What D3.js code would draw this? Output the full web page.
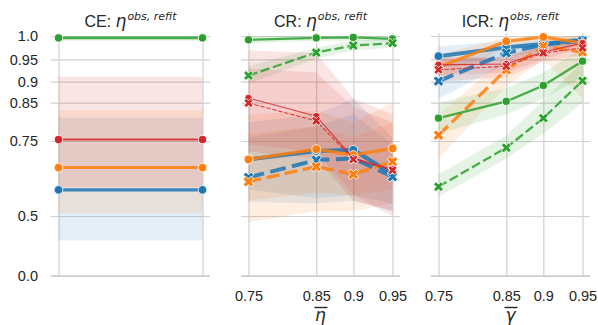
<!DOCTYPE html>
<html><head><meta charset="utf-8">
<script src="https://cdn.jsdelivr.net/npm/d3@7"></script>
<style>body{margin:0;background:#fff}svg{display:block}</style>
</head><body><svg id="c" width="598" height="325"></svg>
<script>
// ---------- data ----------
const ceX = [0, 1];
const xTicks = [0.75, 0.85, 0.9, 0.95];
const xTickLabels = ['0.75', '0.85', '0.9', '0.95'];
const yTicks = [0.0, 0.5, 0.75, 0.85, 0.9, 0.95, 1.0];
const yTickLabels = ['0.0', '0.5', '0.75', '0.85', '0.9', '0.95', '1.0'];
const hueColors = ['#1f77b4', '#ff7f0e', '#2ca02c', '#d62728']; // blue, orange, green, red

// CE panel (solid only)
const ceBlue = [0.599, 0.599], ceBlueLo = [0.384, 0.384], ceBlueHi = [0.812, 0.812];
const ceOrange = [0.672, 0.672], ceOrangeLo = [0.511, 0.511], ceOrangeHi = [0.830, 0.830];
const ceGreen = [0.996, 0.996], ceGreenLo = [0.990, 0.990], ceGreenHi = [1.0, 1.0];
const ceRed = [0.754, 0.754], ceRedLo = [0.608, 0.608], ceRedHi = [0.911, 0.911];

// CR panel
const crBlueSolid = [0.697, 0.722, 0.725, 0.651], crBlueSolidLo = [0.60, 0.57, 0.58, 0.55], crBlueSolidHi = [0.80, 0.82, 0.86, 0.76];
const crBlueDashed = [0.641, 0.695, 0.700, 0.643], crBlueDashedLo = [0.556, 0.55, 0.56, 0.52], crBlueDashedHi = [0.76, 0.79, 0.82, 0.74];
const crOrangeSolid = [0.697, 0.727, 0.710, 0.729], crOrangeSolidLo = [0.56, 0.59, 0.58, 0.60], crOrangeSolidHi = [0.82, 0.83, 0.80, 0.85];
const crOrangeDashed = [0.627, 0.675, 0.651, 0.690], crOrangeDashedLo = [0.473, 0.52, 0.52, 0.55], crOrangeDashedHi = [0.77, 0.79, 0.76, 0.80];
const crGreenSolid = [0.992, 0.996, 0.997, 0.994], crGreenSolidLo = [0.985, 0.99, 0.99, 0.988], crGreenSolidHi = [1.0, 1.0, 1.0, 1.0];
const crGreenDashed = [0.914, 0.965, 0.980, 0.985], crGreenDashedLo = [0.895, 0.952, 0.97, 0.975], crGreenDashedHi = [0.935, 0.975, 0.99, 0.995];
const crRedSolid = [0.861, 0.816, 0.700, 0.667], crRedSolidLo = [0.74, 0.72, 0.58, 0.50], crRedSolidHi = [0.97, 0.964, 0.86, 0.82];
const crRedDashed = [0.849, 0.804, 0.697, 0.664], crRedDashedLo = [0.72, 0.70, 0.56, 0.52], crRedDashedHi = [0.93, 0.92, 0.84, 0.80];

// ICR panel
const icrBlueSolid = [0.957, 0.976, 0.983, 0.992], icrBlueSolidLo = [0.93, 0.955, 0.97, 0.985], icrBlueSolidHi = [0.978, 0.99, 0.995, 1.0];
const icrBlueDashed = [0.901, 0.964, 0.982, 0.990], icrBlueDashedLo = [0.86, 0.94, 0.965, 0.98], icrBlueDashedHi = [0.935, 0.98, 0.99, 0.997];
const icrOrangeSolid = [0.933, 0.989, 0.998, 0.985], icrOrangeSolidLo = [0.90, 0.975, 0.99, 0.96], icrOrangeSolidHi = [0.96, 0.997, 1.0, 1.0];
const icrOrangeDashed = [0.766, 0.927, 0.978, 0.966], icrOrangeDashedLo = [0.70, 0.89, 0.95, 0.86], icrOrangeDashedHi = [0.82, 0.955, 0.995, 1.0];
const icrGreenSolid = [0.811, 0.853, 0.891, 0.946], icrGreenSolidLo = [0.77, 0.82, 0.86, 0.91], icrGreenSolidHi = [0.85, 0.885, 0.92, 0.975];
const icrGreenDashed = [0.610, 0.731, 0.811, 0.902], icrGreenDashedLo = [0.575, 0.70, 0.77, 0.85], icrGreenDashedHi = [0.65, 0.765, 0.855, 0.945];
const icrRedSolid = [0.938, 0.940, 0.966, 0.985], icrRedSolidLo = [0.915, 0.92, 0.95, 0.975], icrRedSolidHi = [0.955, 0.955, 0.98, 0.995];
const icrRedDashed = [0.927, 0.935, 0.964, 0.975], icrRedDashedLo = [0.90, 0.91, 0.945, 0.96], icrRedDashedHi = [0.95, 0.955, 0.98, 0.99];

// ---------- layout ----------
const svg = d3.select('#c');
const yTop = 33, yBot = 276;
const y = d3.scalePow().exponent(2).domain([0, 1]).range([276, 36]);
const textCol = '#262626', gridCol = '#d0d0d0';
const fontSans = 'Liberation Sans, Arial, sans-serif';
const fontMath = 'DejaVu Sans, sans-serif';
const tickFont = 14.5;

function S(hue, dashed, v, lo, hi) { return {hue, dashed, v, lo, hi}; }

const panels = [
  {name: 'CE', x0: 51, x1: 210, xs: ceX, ticks: ceX, labels: null, xlabel: null,
   lw: [3.3, 3, 2.8, 2], r: [4.3, 4.3, 4.1, 4.1],
   series: [S(0,false,ceBlue,ceBlueLo,ceBlueHi), S(1,false,ceOrange,ceOrangeLo,ceOrangeHi),
            S(2,false,ceGreen,ceGreenLo,ceGreenHi), S(3,false,ceRed,ceRedLo,ceRedHi)]},
  {name: 'CR', x0: 241, x1: 400, xs: xTicks, ticks: xTicks, labels: xTickLabels, xlabel: 'η',
   lw: [4, 3.3, 2.3, 1.1], r: [4.4, 4.4, 4.1, 3.8],
   series: [S(0,false,crBlueSolid,crBlueSolidLo,crBlueSolidHi), S(0,true,crBlueDashed,crBlueDashedLo,crBlueDashedHi),
            S(1,false,crOrangeSolid,crOrangeSolidLo,crOrangeSolidHi), S(1,true,crOrangeDashed,crOrangeDashedLo,crOrangeDashedHi),
            S(2,false,crGreenSolid,crGreenSolidLo,crGreenSolidHi), S(2,true,crGreenDashed,crGreenDashedLo,crGreenDashedHi),
            S(3,false,crRedSolid,crRedSolidLo,crRedSolidHi), S(3,true,crRedDashed,crRedDashedLo,crRedDashedHi)]},
  {name: 'ICR', x0: 431, x1: 590, xs: xTicks, ticks: xTicks, labels: xTickLabels, xlabel: 'γ',
   lw: [4, 3.3, 2.3, 1.1], r: [4.4, 4.4, 4.1, 3.8],
   series: [S(0,false,icrBlueSolid,icrBlueSolidLo,icrBlueSolidHi), S(0,true,icrBlueDashed,icrBlueDashedLo,icrBlueDashedHi),
            S(1,false,icrOrangeSolid,icrOrangeSolidLo,icrOrangeSolidHi), S(1,true,icrOrangeDashed,icrOrangeDashedLo,icrOrangeDashedHi),
            S(2,false,icrGreenSolid,icrGreenSolidLo,icrGreenSolidHi), S(2,true,icrGreenDashed,icrGreenDashedLo,icrGreenDashedHi),
            S(3,false,icrRedSolid,icrRedSolidLo,icrRedSolidHi), S(3,true,icrRedDashed,icrRedDashedLo,icrRedDashedHi)]}
];

panels.forEach((p, pi) => {
  const x = (p.name === 'CE')
    ? d3.scaleLinear().domain([0, 1]).range([p.x0 + 7.5, p.x1 - 7.5])
    : d3.scalePow().exponent(2).domain([0.75, 0.95]).range([p.x0 + 7.5, p.x1 - 7.5]);
  const g = svg.append('g');

  // horizontal grid
  const gy = g.append('g').attr('transform', `translate(${p.x0},0)`)
    .call(d3.axisLeft(y).tickValues(yTicks).tickSize(-(p.x1 - p.x0)).tickFormat(''));
  gy.select('.domain').remove();
  gy.selectAll('line').attr('stroke', gridCol).attr('stroke-width', 1.2);
  // vertical grid
  const gx = g.append('g').attr('transform', `translate(0,${yBot})`)
    .call(d3.axisBottom(x).tickValues(p.ticks).tickSize(-(yBot - yTop)).tickFormat(''));
  gx.select('.domain').remove();
  gx.selectAll('line').attr('stroke', gridCol).attr('stroke-width', 1.2);
  // bottom spine
  g.append('line').attr('x1', p.x0).attr('x2', p.x1).attr('y1', yBot).attr('y2', yBot)
    .attr('stroke', '#cccccc').attr('stroke-width', 1.5);

  // y tick labels on first panel
  if (pi === 0) {
    const ya = g.append('g').attr('transform', `translate(${p.x0},0)`)
      .call(d3.axisLeft(y).tickValues(yTicks).tickSize(0).tickPadding(13)
        .tickFormat((d, i) => yTickLabels[i]));
    ya.select('.domain').remove();
    ya.selectAll('text').attr('font-family', fontSans).attr('font-size', tickFont).attr('fill', textCol);
  }
  // x tick labels
  if (p.labels) {
    const xa = g.append('g').attr('transform', `translate(0,${yBot})`)
      .call(d3.axisBottom(x).tickValues(p.ticks).tickSize(0).tickPadding(14.3)
        .tickFormat((d, i) => p.labels[i]));
    xa.select('.domain').remove();
    xa.selectAll('text').attr('font-family', fontSans).attr('font-size', tickFont).attr('fill', textCol);
  }

  // bands
  const area = d3.area().x(d => x(d.x)).y0(d => y(d.lo)).y1(d => y(d.hi));
  p.series.forEach(s => {
    const pts = p.xs.map((xv, i) => ({x: xv, lo: s.lo[i], hi: s.hi[i]}));
    g.append('path').attr('d', area(pts)).attr('fill', hueColors[s.hue]).attr('fill-opacity', 0.12);
  });

  // lines + markers
  const line = d3.line().x(d => x(d.x)).y(d => y(d.v));
  p.series.forEach(s => {
    const pts = p.xs.map((xv, i) => ({x: xv, v: s.v[i]}));
    const lw = p.lw[s.hue];
    g.append('path').attr('d', line(pts)).attr('fill', 'none')
      .attr('stroke', hueColors[s.hue]).attr('stroke-opacity', 0.85).attr('stroke-width', lw)
      .attr('stroke-dasharray', s.dashed ? `${4 * lw},${1.6 * lw}` : null);
    pts.forEach(d => {
      if (!s.dashed) {
        g.append('circle').attr('cx', x(d.x)).attr('cy', y(d.v)).attr('r', p.r[s.hue])
          .attr('fill', hueColors[s.hue]).attr('stroke', '#fff').attr('stroke-width', 0.8);
      } else {
        g.append('path').attr('d', d3.symbol(d3.symbolCross, p.r[s.hue] * p.r[s.hue] * 3.6)())
          .attr('transform', `translate(${x(d.x)},${y(d.v)}) rotate(45)`)
          .attr('fill', hueColors[s.hue]).attr('stroke', '#fff').attr('stroke-width', 0.8);
      }
    });
  });

  // title
  const cx = (p.x0 + p.x1) / 2;
  const t = g.append('text').attr('x', cx).attr('y', 26.5).attr('text-anchor', 'middle')
    .attr('fill', textCol).attr('font-family', fontSans).attr('font-size', 16);
  t.append('tspan').text(p.name + ': ');
  t.append('tspan').attr('font-family', fontMath).attr('font-style', 'italic').attr('font-size', 17).text('η');
  t.append('tspan').attr('font-family', fontMath).attr('font-style', 'italic').attr('font-size', 11)
    .attr('dy', -6.5).attr('dx', 1).text('obs, refit');

  // x label with overline
  if (p.xlabel) {
    g.append('text').attr('x', cx).attr('y', 320.5).attr('text-anchor', 'middle')
      .attr('fill', textCol).attr('font-family', fontMath).attr('font-style', 'italic')
      .attr('font-size', 17).text(p.xlabel);
    g.append('line').attr('x1', cx - 6).attr('x2', cx + 7).attr('y1', 307.5).attr('y2', 307.5)
      .attr('stroke', textCol).attr('stroke-width', 1.4);
  }
});
</script></body></html>
